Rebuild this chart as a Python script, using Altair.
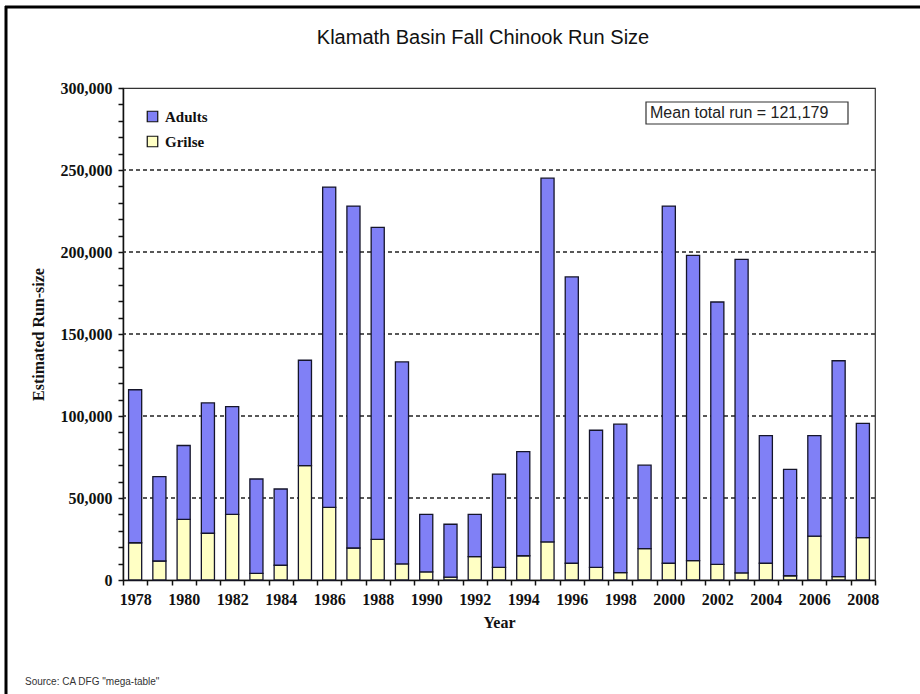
import altair as alt
import pandas as pd

# ---- data ----
years = [1978, 1979, 1980, 1981, 1982, 1983, 1984, 1985, 1986, 1987, 1988,
         1989, 1990, 1991, 1992, 1993, 1994, 1995, 1996, 1997, 1998, 1999,
         2000, 2001, 2002, 2003, 2004, 2005, 2006, 2007, 2008]
total_run = [116000, 63000, 82000, 108000, 105700, 61600, 55500, 134000, 239600,
             228000, 215000, 133000, 40000, 34000, 40000, 64600, 78300, 245000,
             184800, 91300, 95000, 70000, 228000, 198000, 169500, 195500, 88000,
             67500, 88000, 133700, 95500]
grilse = [22700, 11600, 37000, 28500, 40000, 4000, 9000, 69700, 44300, 19500,
          24800, 9800, 4900, 1800, 14200, 7700, 14800, 23200, 10200, 7700, 4500,
          19100, 10200, 11800, 9500, 4300, 10200, 2600, 26800, 2000, 25800]
series = ["Adults", "Grilse"]
series_colors = ["#8080f6", "#ffffc4"]
grid_values = [50000, 100000, 150000, 200000, 250000]
tick_values = list(range(0, 300001, 10000))
title_text = "Klamath Basin Fall Chinook Run Size"
mean_label = "Mean total run = 121,179"
source_label = 'Source: CA DFG "mega-table"'

rows = []
for y, t, g in zip(years, total_run, grilse):
    rows.append({"year": y, "type": "Grilse", "value": g, "ord": 0})
    rows.append({"year": y, "type": "Adults", "value": t - g, "ord": 1})
df = pd.DataFrame(rows)

W, H = 752, 492
SERIF = "Liberation Serif"
SANS = "Liberation Sans"
y_scale = alt.Scale(domain=[0, 300000], nice=False)

x_axis = alt.Axis(
    title="Year", titleFont=SERIF, titleFontWeight="bold", titleFontSize=16,
    titleColor="#111", titlePadding=7,
    labelFont=SERIF, labelFontWeight="bold", labelFontSize=16, labelColor="#111",
    labelAngle=0, labelOverlap=False, labelPadding=6,
    labelExpr="datum.value % 2 == 0 ? datum.value : ''",
    ticks=True, tickBand="extent",
    tickSize=5, tickColor="#111", tickWidth=1.5,
    domainColor="#111", domainWidth=1.5, grid=False,
)
y_axis = alt.Axis(
    title="Estimated Run-size", titleFont=SERIF, titleFontWeight="bold",
    titleFontSize=16, titleColor="#111", titlePadding=14,
    values=tick_values, labelOverlap=False, labelFlush=False,
    labelExpr="datum.value % 50000 == 0 ? format(datum.value, ',') : ''",
    labelFont=SERIF, labelFontWeight="bold", labelFontSize=16, labelColor="#111",
    labelPadding=6, ticks=True, tickSize=5, tickColor="#111", tickWidth=1.5,
    domainColor="#111", domainWidth=1.5, grid=False,
)

bars = alt.Chart(df).mark_bar(
    width=alt.RelativeBandSize(0.54), stroke="#15152a", strokeWidth=1.3
).encode(
    x=alt.X("year:O", scale=alt.Scale(paddingInner=0, paddingOuter=0), axis=x_axis),
    y=alt.Y("value:Q", stack="zero", scale=y_scale, axis=y_axis),
    color=alt.Color(
        "type:N",
        scale=alt.Scale(domain=series, range=series_colors),
        legend=alt.Legend(
            title=None, orient="none", legendX=22, legendY=21, padding=0,
            symbolType="square", symbolSize=110, symbolStrokeColor="#111",
            symbolStrokeWidth=1.2, labelFont=SERIF, labelFontWeight="bold",
            labelFontSize=15, labelColor="#111", rowPadding=8, labelOffset=5,
        ),
    ),
    order=alt.Order("ord:Q"),
)

grid = alt.Chart(pd.DataFrame({"v": grid_values})).mark_rule(
    color="#222", strokeDash=[4, 3], strokeWidth=1.4
).encode(y=alt.Y("v:Q", scale=y_scale, axis=y_axis))

mean_box = alt.Chart(pd.DataFrame({"t": [mean_label]})).mark_rect(
    fill="white", stroke="#333", strokeWidth=1.2
).encode(x=alt.value(523), x2=alt.value(725), y=alt.value(14), y2=alt.value(36))

mean_text = alt.Chart(pd.DataFrame({"t": [mean_label]})).mark_text(
    align="left", baseline="middle", font=SANS, fontSize=16, color="#222"
).encode(x=alt.value(527), y=alt.value(25), text="t:N")

title = alt.Chart(pd.DataFrame({"t": [title_text]})).mark_text(
    align="center", baseline="middle", font=SANS, fontSize=20, color="#111"
).encode(x=alt.value(360), y=alt.value(-50), text="t:N")

source = alt.Chart(pd.DataFrame({"t": [source_label]})).mark_text(
    align="left", baseline="middle", font=SANS, fontSize=10, color="#333"
).encode(x=alt.value(-98), y=alt.value(594), text="t:N")

frame_top = alt.Chart(pd.DataFrame({"t": [0]})).mark_rule(
    color="black", strokeWidth=3
).encode(x=alt.value(-118), x2=alt.value(797), y=alt.value(-81))

frame_left = alt.Chart(pd.DataFrame({"t": [0]})).mark_rule(
    color="black", strokeWidth=3
).encode(x=alt.value(-117), y=alt.value(-82), y2=alt.value(606))

chart = alt.layer(
    grid, bars, mean_box, mean_text, title, source, frame_top, frame_left
).resolve_scale(y="shared").properties(
    width=W, height=H,
    autosize=alt.AutoSizeParams(type="none"),
    padding={"left": 123, "top": 88, "right": 45, "bottom": 114},
    background="white",
).configure_view(stroke="#333", strokeWidth=1.2)

chart.save("out.html", embed_options={"renderer": "svg", "actions": False})
